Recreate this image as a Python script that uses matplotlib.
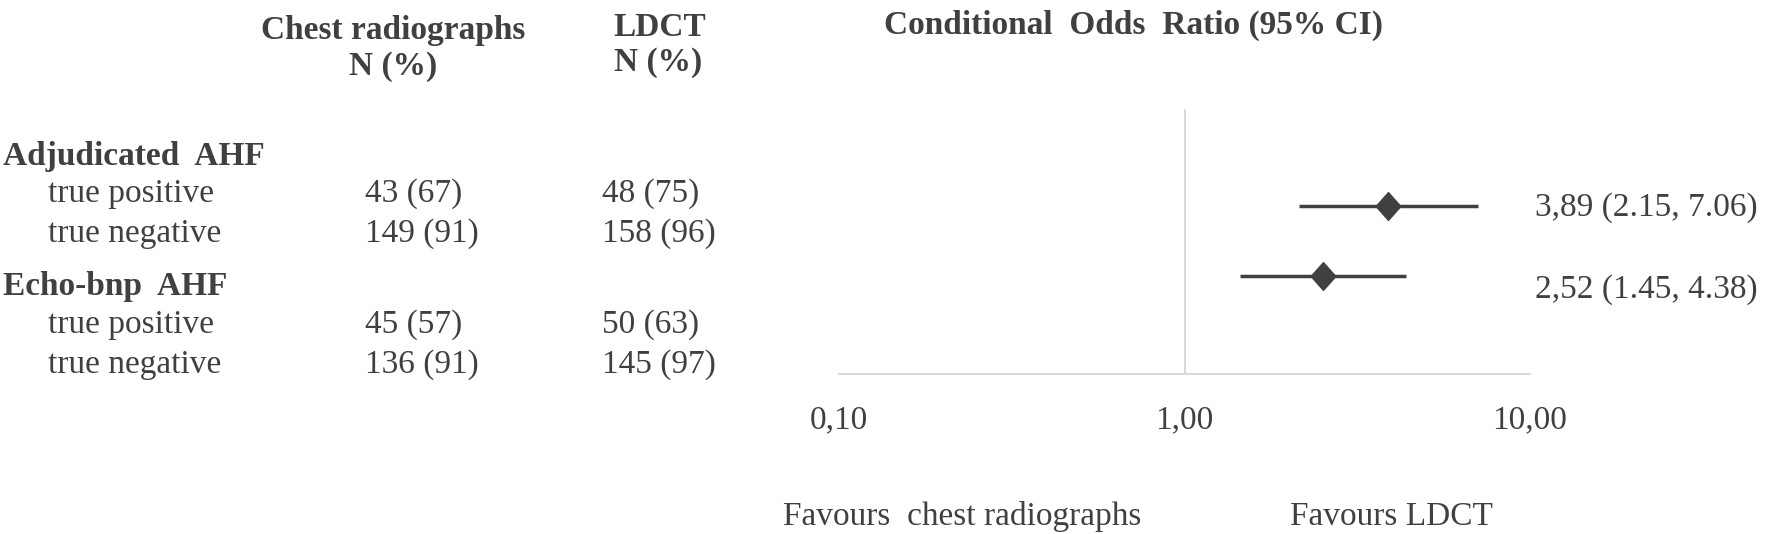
import matplotlib
matplotlib.use("Agg")
import matplotlib.pyplot as plt
from matplotlib.path import Path
from matplotlib.ticker import NullFormatter

# ---------------- data ----------------
groups = ["Adjudicated  AHF", "Echo-bnp  AHF"]
rows = ["true positive", "true negative"]
cxr_vals = [["43 (67)", "149 (91)"], ["45 (57)", "136 (91)"]]
ldct_vals = [["48 (75)", "158 (96)"], ["50 (63)", "145 (97)"]]
or_est = [3.89, 2.52]
or_lo = [2.15, 1.45]
or_hi = [7.06, 4.38]
or_labels = ["3,89 (2.15, 7.06)", "2,52 (1.45, 4.38)"]
tick_vals = [0.1, 1, 10]
tick_labels = ["0,10", "1,00", "10,00"]

W, H = 1775, 534
TXT = "#404040"
GRID = "#d9d9d9"
FONT = "Liberation Serif"
FS = 24

plt.rcParams["font.family"] = [FONT, "DejaVu Serif"]
fig = plt.figure(figsize=(W / 100, H / 100), dpi=100)


def ftext(x, y, s, **kw):
    kw.setdefault("fontsize", FS)
    kw.setdefault("color", TXT)
    kw.setdefault("va", "center")
    fig.text(x / W, 1 - y / H, s, **kw)


# headers
ftext(393, 31, "Chest radiographs", ha="center", fontweight="bold")
ftext(393, 67, "N (%)", ha="center", fontweight="bold")
ftext(660, 28, "LDCT", ha="center", fontweight="bold")
ftext(658, 63, "N (%)", ha="center", fontweight="bold")
ftext(1133, 25, "Conditional  Odds  Ratio (95% CI)", ha="center", fontweight="bold")

# table
group_y = [156, 287]
row_dy = [38, 78]
for g, gname in enumerate(groups):
    ftext(3, group_y[g], gname, ha="left", fontweight="bold")
    for r, rname in enumerate(rows):
        y = group_y[g] + row_dy[r]
        ftext(48, y, rname, ha="left")
        ftext(365, y, cxr_vals[g][r], ha="left")
        ftext(602, y, ldct_vals[g][r], ha="left")

# forest axes
x0, x1, ytop, ybot = 839, 1530, 109, 374
ax = fig.add_axes([x0 / W, 1 - ybot / H, (x1 - x0) / W, (ybot - ytop) / H])
ax.set_xscale("log")
ax.set_xlim(0.1, 10)
ax.set_ylim(-0.40, 3.39)
ypos = [2, 1]

ax.axvline(1, color=GRID, lw=1.5, zorder=1)
diamond = Path([(0, 1), (0.89, 0), (0, -1), (-0.89, 0), (0, 1)],
               [Path.MOVETO, Path.LINETO, Path.LINETO, Path.LINETO, Path.CLOSEPOLY])
ax.hlines(ypos, or_lo, or_hi, color=TXT, lw=2.5, zorder=2)
ax.plot(or_est, ypos, linestyle="none", marker=diamond, ms=20, color=TXT, zorder=3)

for sp in ["left", "top", "right"]:
    ax.spines[sp].set_visible(False)
ax.spines["bottom"].set_color(GRID)
ax.spines["bottom"].set_linewidth(1.5)
ax.set_yticks([])
ax.set_xticks(tick_vals)
ax.set_xticklabels(tick_labels, fontsize=FS, color=TXT)
ax.xaxis.set_minor_formatter(NullFormatter())
ax.tick_params(axis="x", which="both", length=0, pad=22)

# OR labels
label_y = [208, 290]
for i, lab in enumerate(or_labels):
    ftext(1535, label_y[i], lab, ha="left")

# favours
ftext(962, 517, "Favours  chest radiographs", ha="center")
ftext(1391, 517, "Favours LDCT", ha="center")

fig.savefig("out.png", dpi=100)
